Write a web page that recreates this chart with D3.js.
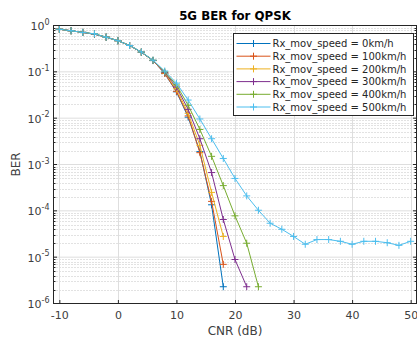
<!DOCTYPE html>
<html>
<head>
<meta charset="utf-8">
<script src="https://cdn.jsdelivr.net/npm/d3@7"></script>
<style>
  body { margin: 0; background: #fff; }
  svg { display: block; font-family: "DejaVu Sans", sans-serif; }
</style>
</head>
<body>
<div id="chart"></div>
<script>
// CNR points (dB)
const cnr = [-10, -8, -6, -4, -2, 0, 2, 4, 6, 8, 10, 12, 14, 16, 18, 20, 22, 24, 26, 28, 30, 32, 34, 36, 38, 40, 42, 44, 46, 48, 50];

// BER per receiver speed (points with zero errors are simply absent)
const ber0   = [0.83, 0.77, 0.71, 0.65, 0.56, 0.47, 0.37, 0.265, 0.175, 0.092, 0.037, 0.0105, 0.0019, 1.35e-4, 2.3e-6];
const ber100 = [0.83, 0.77, 0.71, 0.65, 0.56, 0.47, 0.37, 0.265, 0.175, 0.092, 0.038, 0.0112, 0.0018, 1.6e-4, 7e-6];
const ber200 = [0.83, 0.77, 0.71, 0.65, 0.56, 0.47, 0.37, 0.265, 0.176, 0.095, 0.043, 0.0127, 0.0026, 2.5e-4, 2.8e-5];
const ber300 = [0.83, 0.77, 0.71, 0.65, 0.56, 0.47, 0.37, 0.266, 0.177, 0.097, 0.047, 0.0155, 0.0036, 6.7e-4, 6.5e-5, 8.9e-6, 2.3e-6];
const ber400 = [0.83, 0.77, 0.71, 0.66, 0.56, 0.47, 0.37, 0.267, 0.178, 0.100, 0.052, 0.019, 0.0057, 0.0015, 3.5e-4, 7.8e-5, 2.0e-5, 2.3e-6];
const ber500 = [0.83, 0.77, 0.71, 0.66, 0.56, 0.47, 0.37, 0.268, 0.178, 0.104, 0.057, 0.0246, 0.0096, 0.0036, 0.00135, 5.0e-4, 2.1e-4, 1.03e-4, 5.4e-5, 4.0e-5, 2.8e-5, 1.9e-5, 2.4e-5, 2.4e-5, 2.2e-5, 1.9e-5, 2.2e-5, 2.2e-5, 2.05e-5, 1.8e-5, 2.2e-5];

const seriesNames = ["Rx_mov_speed = 0km/h", "Rx_mov_speed = 100km/h", "Rx_mov_speed = 200km/h",
                     "Rx_mov_speed = 300km/h", "Rx_mov_speed = 400km/h", "Rx_mov_speed = 500km/h"];
const xTicks = [-10, 0, 10, 20, 30, 40, 50];
const yExponents = [0, -1, -2, -3, -4, -5, -6];

const colors = ["#0072BD", "#D95319", "#EDB120", "#7E2F8E", "#77AC30", "#4DBEEE"];
const allSeries = [ber0, ber100, ber200, ber300, ber400, ber500];

const width = 417;
const height = 340;
const margin = { top: 25.5, right: 0.5, bottom: 36.5, left: 53.5 };

const svg = d3.select("#chart")
    .append("svg")
    .attr("width", width)
    .attr("height", height);

// Scales
const xScale = d3.scaleLinear()
    .domain([-11, 51])
    .range([margin.left, width - margin.right]);

const yScale = d3.scaleLog()
    .domain([1e-6, 1])
    .range([height - margin.bottom, margin.top]);

const x0 = margin.left, x1 = width - margin.right;
const y0 = height - margin.bottom, y1 = margin.top;
const axisColor = "#262626";
const labelColor = "#404040";

// Minor grid (y only), dotted
const minorVals = [];
for (let e = -6; e < 0; e++) {
    for (let m = 2; m <= 9; m++) minorVals.push(m * Math.pow(10, e));
}
svg.append("g")
    .selectAll("line")
    .data(minorVals)
    .enter()
    .append("line")
    .attr("x1", x0).attr("x2", x1)
    .attr("y1", d => Math.round(yScale(d)) + 0.5)
    .attr("y2", d => Math.round(yScale(d)) + 0.5)
    .attr("stroke", "#c4c4c4")
    .attr("stroke-dasharray", "1,2");

// Major grid
svg.append("g")
    .selectAll("line")
    .data(yExponents)
    .enter()
    .append("line")
    .attr("x1", x0).attr("x2", x1)
    .attr("y1", d => yScale(Math.pow(10, d)))
    .attr("y2", d => yScale(Math.pow(10, d)))
    .attr("stroke", "#dedede");

svg.append("g")
    .selectAll("line")
    .data(xTicks)
    .enter()
    .append("line")
    .attr("x1", d => Math.round(xScale(d)) + 0.5)
    .attr("x2", d => Math.round(xScale(d)) + 0.5)
    .attr("y1", y0).attr("y2", y1)
    .attr("stroke", "#dedede");

// Curves
const line = d3.line()
    .x(d => xScale(d[0]))
    .y(d => yScale(d[1]));

allSeries.forEach((vals, i) => {
    const pts = vals.map((v, j) => [cnr[j], v]);
    const g = svg.append("g");
    g.append("path")
        .datum(pts)
        .attr("d", line)
        .attr("fill", "none")
        .attr("stroke", colors[i])
        .attr("stroke-width", 1);
    g.selectAll("path.mk")
        .data(pts)
        .enter()
        .append("path")
        .attr("class", "mk")
        .attr("d", d => {
            const px = xScale(d[0]), py = yScale(d[1]), s = 3.5;
            return `M${px - s},${py}H${px + s}M${px},${py - s}V${py + s}`;
        })
        .attr("stroke", colors[i])
        .attr("stroke-width", 1);
});

// Axes box
svg.append("rect")
    .attr("x", x0).attr("y", y1)
    .attr("width", x1 - x0).attr("height", y0 - y1)
    .attr("fill", "none")
    .attr("stroke", axisColor)
    .attr("stroke-width", 1);

// X axis (inward ticks)
const xAxis = svg.append("g")
    .attr("transform", `translate(0, ${y0})`)
    .call(d3.axisBottom(xScale).tickValues(xTicks).tickSize(-3.5).tickPadding(8).tickFormat(d3.format("d")));
xAxis.select(".domain").remove();
xAxis.selectAll("line").attr("stroke", axisColor);
xAxis.selectAll("text")
    .attr("fill", labelColor)
    .style("font-size", "11px")
    .style("font-family", "DejaVu Sans, sans-serif")
    .text(d => d < 0 ? "-" + Math.abs(d) : d);

// Y axis ticks (inward) major + minor, on both sides
[[x0, 1], [x1, -1]].forEach(([xa, dir]) => {
    svg.append("g")
        .selectAll("line")
        .data(yExponents)
        .enter()
        .append("line")
        .attr("x1", xa).attr("x2", xa + dir * 3.5)
        .attr("y1", d => yScale(Math.pow(10, d)))
        .attr("y2", d => yScale(Math.pow(10, d)))
        .attr("stroke", axisColor);
    svg.append("g")
        .selectAll("line")
        .data(minorVals)
        .enter()
        .append("line")
        .attr("x1", xa).attr("x2", xa + dir * 2)
        .attr("y1", d => Math.round(yScale(d)) + 0.5)
        .attr("y2", d => Math.round(yScale(d)) + 0.5)
        .attr("stroke", axisColor);
});

// Y tick labels 10^n
const yLabels = svg.append("g")
    .selectAll("text")
    .data(yExponents)
    .enter()
    .append("text")
    .attr("x", x0 - 4)
    .attr("y", d => yScale(Math.pow(10, d)) + 4.5)
    .attr("text-anchor", "end")
    .attr("fill", labelColor)
    .style("font-size", "11px");
yLabels.append("tspan").text("10");
yLabels.append("tspan")
    .attr("dy", -5.5)
    .style("font-size", "8px")
    .text(d => d < 0 ? "-" + Math.abs(d) : d);

// Title and axis labels
svg.append("text")
    .attr("x", (x0 + x1) / 2)
    .attr("y", 20)
    .attr("text-anchor", "middle")
    .attr("fill", "#000")
    .style("font-size", "11.8px")
    .style("font-weight", "bold")
    .text("5G BER for QPSK");

svg.append("text")
    .attr("x", (x0 + x1) / 2)
    .attr("y", 334.5)
    .attr("text-anchor", "middle")
    .attr("fill", labelColor)
    .style("font-size", "12px")
    .text("CNR (dB)");

svg.append("text")
    .attr("transform", "rotate(-90)")
    .attr("x", -(y0 + y1) / 2)
    .attr("y", 20)
    .attr("text-anchor", "middle")
    .attr("fill", labelColor)
    .style("font-size", "12px")
    .text("BER");

// Legend
const legend = svg.append("g").attr("transform", "translate(233.5, 33.5)");
legend.append("rect")
    .attr("width", 180)
    .attr("height", 82)
    .attr("fill", "#fff")
    .attr("stroke", axisColor)
    .attr("stroke-width", 1);
seriesNames.forEach((name, i) => {
    const ly = 10 + i * 12.7;
    legend.append("line")
        .attr("x1", 3).attr("x2", 37)
        .attr("y1", ly).attr("y2", ly)
        .attr("stroke", colors[i]);
    legend.append("path")
        .attr("d", `M20,${ly - 3.5}V${ly + 3.5}M16.5,${ly}H23.5`)
        .attr("stroke", colors[i]);
    legend.append("text")
        .attr("x", 39)
        .attr("y", ly + 3.6)
        .attr("fill", axisColor)
        .style("font-size", "10px")
        .text(name);
});
</script>
</body>
</html>
